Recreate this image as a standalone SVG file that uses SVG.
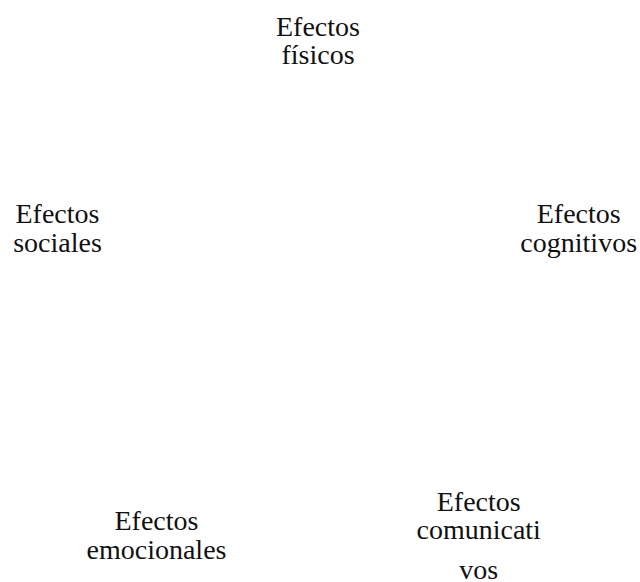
<svg xmlns="http://www.w3.org/2000/svg" width="640" height="582" viewBox="0 0 640 582">
<style>
text{font-family:"Liberation Serif","Times New Roman",serif;font-size:28px;fill:#111;text-anchor:middle}
</style>
<rect width="640" height="582" fill="#fff"/>
<g id="connectors"></g>
<g id="fisicos"><text x="318" y="35.5">Efectos</text><text x="318" y="63.5">físicos</text></g>
<g id="sociales"><text x="57.5" y="223.3">Efectos</text><text x="57.5" y="251.7">sociales</text></g>
<g id="cognitivos"><text x="578.7" y="223.3">Efectos</text><text x="578.7" y="251.7">cognitivos</text></g>
<g id="emocionales"><text x="156.5" y="530">Efectos</text><text x="156.5" y="558.5">emocionales</text></g>
<g id="comunicativos"><text x="478.7" y="510.5">Efectos</text><text x="478.7" y="538.5">comunicati</text><text x="478.7" y="579">vos</text></g>
</svg>
